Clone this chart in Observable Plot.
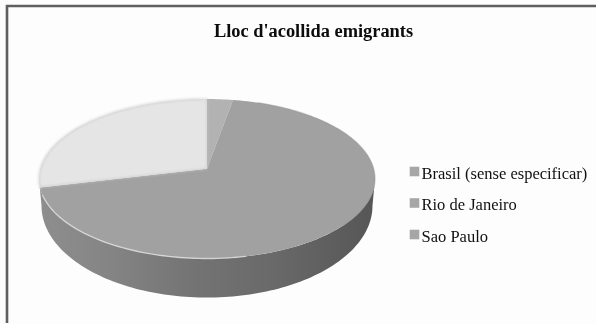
<!DOCTYPE html>
<html>
<head>
<meta charset="utf-8">
<script src="https://cdn.jsdelivr.net/npm/d3@7"></script>
<script src="https://cdn.jsdelivr.net/npm/@observablehq/plot@0.6"></script>
<style>
html,body{margin:0;padding:0;background:#fff;overflow:hidden}
#chart{position:absolute;left:0;top:0;width:596px;height:324px}
#chart svg{display:block;filter:blur(0.45px)}
</style>
</head>
<body>
<div id="chart"></div>
<script>
const titleText = "Lloc d'acollida emigrants";
const categories = ["Brasil (sense especificar)", "Rio de Janeiro", "Sao Paulo"];
const values = [2.8, 68.5, 28.7];
const topColors = ["#b2b2b2", "#a1a1a1", "#e5e5e5"];
const swatchColor = "#a6a6a6";
const FONT = "'Liberation Serif', 'Times New Roman', serif";

// Tilted-disc geometry, in plot units (top ellipse spans -1..1 on both axes)
const tilt = 0.125;          // the pie's centre is displaced by perspective
const project = (a) => {
  const cx = Math.sin(a), cy = Math.cos(a);
  const d = 1 + tilt * cy;
  return {x: cx * Math.sqrt(1 - tilt * tilt) / d, y: (cy + tilt) / d};
};
const total = d3.sum(values);
let acc = 0;
const slices = categories.map((name, i) => {
  const a0 = acc / total * 2 * Math.PI;
  acc += values[i];
  return {name, i, a0, a1: acc / total * 2 * Math.PI};
});
const arcPoints = (s, close) => {
  const n = Math.max(4, Math.ceil((s.a1 - s.a0) * 40));
  const pts = d3.range(n + 1).map(k => project(s.a0 + (s.a1 - s.a0) * k / n));
  const apex = {x: 0, y: tilt};
  return close ? [apex, ...pts, apex] : pts;
};
const polygons = slices.flatMap(s => arcPoints(s, true).map(p => ({...p, name: s.name, color: topColors[s.i]})));
const whiteEdge = arcPoints(slices[2], true).map(p => ({...p}));
const rioEdge = arcPoints(slices[1], false);
const rimLow = rioEdge.filter(p => p.y < -0.2 && p.x < 0.25);
const rimHigh = rioEdge.filter(p => p.x > 0.3 && p.y > -0.6);

// Side wall: lower half of the top rim joined to the lower half of the base rim
const baseRx = 0.985, baseRy = 1.15, baseCy = -0.34;
const phi = d3.range(0, 121).map(k => Math.PI * k / 120);
const wall = [
  ...phi.map(f => ({x: Math.cos(f), y: -Math.sin(f)})),
  ...phi.slice().reverse().map(f => ({x: baseRx * Math.cos(f), y: baseCy - baseRy * Math.sin(f)}))
];

const legendMarks = categories.flatMap((name, i) => [
  Plot.dot([name], {
    frameAnchor: "top-left", dx: 414, dy: 171 + i * 31.5,
    symbol: "square", r: 5.4, fill: swatchColor, stroke: "none"
  }),
  Plot.text([name], {
    frameAnchor: "top-left", dx: 421, dy: 173 + i * 31.5, text: d => d,
    textAnchor: "start", lineAnchor: "middle",
    fontFamily: FONT, fontSize: 16.5, fill: "#111"
  })
]);

const plot = Plot.plot({
  width: 596, height: 324,
  margin: 0,
  style: {background: "#fdfdfd", overflow: "visible"},
  x: {domain: [-1, 1], range: [38.5, 374.5], axis: null},
  y: {domain: [-1, 1], range: [258, 98.5], axis: null},
  marks: [
    () => {
      const ns = "http://www.w3.org/2000/svg";
      const g = document.createElementNS(ns, "g");
      g.innerHTML = `<defs><linearGradient id="side" x1="0" x2="1" y1="0" y2="0">
        <stop offset="0" stop-color="#8e8e8e"/><stop offset="0.2" stop-color="#858585"/>
        <stop offset="0.45" stop-color="#747474"/><stop offset="0.7" stop-color="#696969"/>
        <stop offset="1" stop-color="#565656"/></linearGradient></defs>
        <path d="M7 323V6H596" fill="none" stroke="#5f5f5f" stroke-width="2.6"/>`;
      return g;
    },
    Plot.line(wall, {x: "x", y: "y", fill: "url(#side)", stroke: "none"}),
    Plot.line(polygons, {x: "x", y: "y", z: "name", fill: "color", stroke: "none", curve: "linear"}),
    Plot.line(rimLow, {x: "x", y: "y", stroke: "#dedede", strokeWidth: 1.4, strokeOpacity: 0.8, imageFilter: "blur(0.7px)"}),
    Plot.line(rimHigh, {x: "x", y: "y", stroke: "#8f8f8f", strokeWidth: 1.2, strokeOpacity: 0.45, imageFilter: "blur(0.7px)"}),
    Plot.line(whiteEdge, {x: "x", y: "y", stroke: "#c4c4c4", strokeWidth: 1.2, strokeOpacity: 0.8, imageFilter: "blur(0.8px)"}),
    Plot.text([titleText], {
      frameAnchor: "top-left", dx: 313, dy: 31, text: d => d,
      textAnchor: "middle", lineAnchor: "middle",
      fontFamily: FONT, fontSize: 18.4, fontWeight: "bold", fill: "#0c0c0c"
    }),
    ...legendMarks
  ]
});
document.getElementById("chart").append(plot);
</script>
</body>
</html>
